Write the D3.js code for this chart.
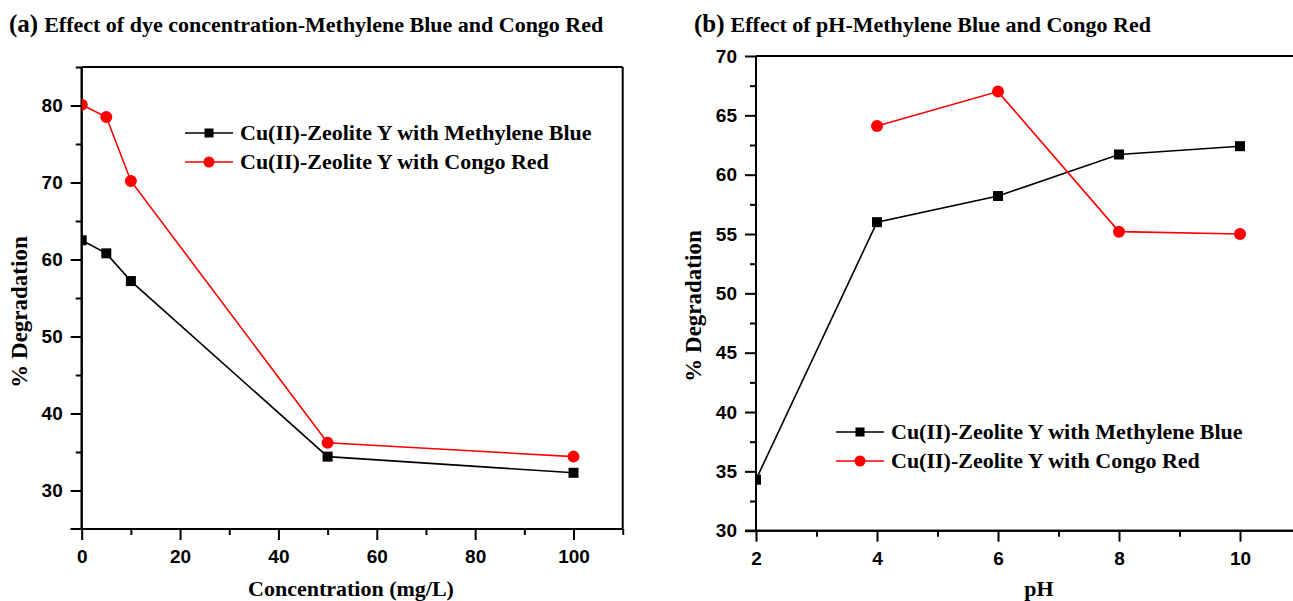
<!DOCTYPE html>
<html><head><meta charset="utf-8">
<script src="https://cdn.jsdelivr.net/npm/d3@7"></script>
<style>body{margin:0;background:#fff;}svg{display:block;}</style>
</head><body>
<svg id="c" width="1293" height="601"></svg>
<script>
// Panel (a): dye concentration
const concX = [0, 5, 10, 50, 100];
const concMB = [62.5, 60.8, 57.2, 34.4, 32.3];
const concCR = [80.1, 78.5, 70.2, 36.2, 34.4];
const concXTicks = [0, 20, 40, 60, 80, 100];
const concYTicks = [30, 40, 50, 60, 70, 80];
// Panel (b): pH
const phXMB = [2, 4, 6, 8, 10];
const phMB = [34.3, 56.0, 58.2, 61.7, 62.4];
const phXCR = [4, 6, 8, 10];
const phCR = [64.1, 67.0, 55.2, 55.0];
const phXTicks = [2, 4, 6, 8, 10];
const phYTicks = [30, 35, 40, 45, 50, 55, 60, 65, 70];
const seriesNames = ["Cu(II)-Zeolite Y with Methylene Blue", "Cu(II)-Zeolite Y with Congo Red"];

const svg = d3.select("#c");
const serif = "'Liberation Serif','Times New Roman',serif";
const sans = "'Liberation Sans',Arial,sans-serif";

function panel(cfg, idx){
  const g = svg.append("g");
  const x = d3.scaleLinear().domain(cfg.xd).range([cfg.l, cfg.r]);
  const y = d3.scaleLinear().domain(cfg.yd).range([cfg.b, cfg.t]);
  svg.append("clipPath").attr("id","clip"+idx).append("rect")
    .attr("x",cfg.l).attr("y",cfg.t).attr("width",cfg.r-cfg.l).attr("height",cfg.b-cfg.t);
  // frame top & right
  g.append("line").attr("x1", cfg.l).attr("x2", cfg.r).attr("y1", cfg.t).attr("y2", cfg.t).attr("stroke","#000").attr("stroke-width",2);
  g.append("line").attr("x1", cfg.r).attr("x2", cfg.r).attr("y1", cfg.t).attr("y2", cfg.b).attr("stroke","#000").attr("stroke-width",2);
  const xa = d3.axisBottom(x).tickValues(cfg.xticks).tickSize(11).tickPadding(10).tickFormat(d3.format("d"));
  const xm = d3.axisBottom(x).tickValues(cfg.xminor).tickSize(6).tickFormat("");
  const ya = d3.axisLeft(y).tickValues(cfg.yticks).tickSize(11).tickPadding(8).tickFormat(d3.format("d"));
  const ym = d3.axisLeft(y).tickValues(cfg.yminor).tickSize(6).tickFormat("");
  [ [xm,"b"],[xa,"b"],[ym,"l"],[ya,"l"] ].forEach(([ax,s])=>{
    const a = g.append("g").attr("transform", s==="b" ? `translate(0,${cfg.b})` : `translate(${cfg.l},0)`).call(ax);
    a.select(".domain").attr("stroke-width",2).attr("d", s==="b" ? `M${cfg.l-11},0H${cfg.r}` : `M0,${cfg.b}V${cfg.t}`);
    a.selectAll(".tick line").attr("stroke-width",2);
    a.selectAll("text").attr("font-family",sans).attr("font-weight","bold").attr("font-size",19).attr("fill","#000");
  });
  const line = d3.line().x(d=>x(d[0])).y(d=>y(d[1]));
  const mb = cfg.mbx.map((v,i)=>[v,cfg.mb[i]]);
  const cr = cfg.crx.map((v,i)=>[v,cfg.cr[i]]);
  const dg = g.append("g").attr("clip-path",`url(#clip${idx})`);
  dg.append("path").datum(mb).attr("d",line).attr("fill","none").attr("stroke","#000").attr("stroke-width",1.6);
  dg.append("path").datum(cr).attr("d",line).attr("fill","none").attr("stroke","#ff0000").attr("stroke-width",1.6);
  dg.selectAll(".sq").data(mb).join("rect").attr("x",d=>x(d[0])-5).attr("y",d=>y(d[1])-5).attr("width",10).attr("height",10).attr("fill","#000");
  dg.selectAll(".ci").data(cr).join("circle").attr("cx",d=>x(d[0])).attr("cy",d=>y(d[1])).attr("r",6).attr("fill","#ff0000");
  // legend
  const lg = g.append("g");
  [0,1].forEach(i=>{
    const ly = cfg.legY + i*29, col = i===0 ? "#000" : "#ff0000";
    lg.append("line").attr("x1",cfg.legX).attr("x2",cfg.legX+48).attr("y1",ly).attr("y2",ly).attr("stroke",col).attr("stroke-width",1.6);
    if(i===0) lg.append("rect").attr("x",cfg.legX+19.5).attr("y",ly-4.5).attr("width",9).attr("height",9).attr("fill",col);
    else lg.append("circle").attr("cx",cfg.legX+24).attr("cy",ly).attr("r",5.5).attr("fill",col);
    lg.append("text").attr("x",cfg.legX+55).attr("y",ly+7).text(seriesNames[i]).attr("font-family",serif).attr("font-weight","bold").attr("font-size",22).attr("fill","#000");
  });
  // axis titles
  g.append("text").attr("x",cfg.xlabX).attr("y",596).attr("text-anchor","middle").text(cfg.xlabel)
    .attr("font-family",serif).attr("font-weight","bold").attr("font-size",22);
  g.append("text").attr("transform",`translate(${cfg.ylabX},${cfg.ylabY}) rotate(-90)`).attr("text-anchor","middle").text("% Degradation")
    .attr("font-family",serif).attr("font-weight","bold").attr("font-size",23);
  // title
  const t = g.append("text").attr("x",cfg.titleX).attr("y",32).attr("font-family",serif).attr("font-weight","bold");
  t.append("tspan").attr("font-size",25).text(cfg.tag);
  t.append("tspan").attr("font-size",22).attr("dx",6).text(cfg.title);
}

panel({l:81.7, r:622.7, t:67, b:529, xd:[0,110], yd:[25,85],
  xticks:concXTicks, xminor:[10,30,50,70,90,110], yticks:concYTicks, yminor:[35,45,55,65,75,85],
  mbx:concX, mb:concMB, crx:concX, cr:concCR,
  legX:185, legY:133, xlabel:"Concentration (mg/L)", xlabX:351, ylabX:27, ylabY:312,
  tag:"(a)", title:"Effect of dye concentration-Methylene Blue and Congo Red", titleX:9}, 0);

panel({l:756, r:1300.5, t:56, b:530.7, xd:[2,11], yd:[30,70],
  xticks:phXTicks, xminor:[3,5,7,9,11], yticks:phYTicks, yminor:[32.5,37.5,42.5,47.5,52.5,57.5,62.5,67.5],
  mbx:phXMB, mb:phMB, crx:phXCR, cr:phCR,
  legX:836, legY:432, xlabel:"pH", xlabX:1039, ylabX:701, ylabY:306,
  tag:"(b)", title:"Effect of pH-Methylene Blue and Congo Red", titleX:694}, 1);
</script>
</body></html>
